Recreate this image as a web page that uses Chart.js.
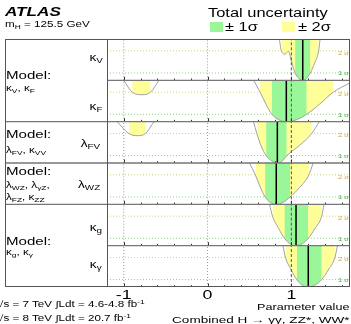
<!DOCTYPE html>
<html>
<head>
<meta charset="utf-8">
<title>Coupling scans</title>
<script src="https://cdn.jsdelivr.net/npm/chart.js@4.4.1/dist/chart.umd.min.js"></script>
<style>
  html, body { margin: 0; padding: 0; background: #fff; }
  body { position: relative; width: 351px; height: 324px; overflow: hidden;
         font-family: "Liberation Sans", Arial, Helvetica, sans-serif; color: #000; }
  canvas { position: absolute; left: 0; top: 0; }
  .t { position: absolute; white-space: nowrap; line-height: 1;
       transform: scaleX(1.37); transform-origin: 0 50%; }
  .t.r { transform-origin: 100% 50%; }
  .t sub { font-size: 72%; vertical-align: -0.3em; line-height: 0; }
  .t sup { font-size: 72%; vertical-align: 0.5em; line-height: 0; }
  .swatch { position: absolute; width: 13px; height: 10px; }
</style>
</head>
<body>
<canvas id="fits" width="351" height="324"></canvas>

<div class="t" style="left:5px; top:6px; font-size:12.5px; font-weight:bold; font-style:italic;">ATLAS</div>
<div class="t" style="left:5px; top:20px; font-size:8.5px;">m<sub>H</sub> = 125.5 GeV</div>

<div class="t" style="left:208px; top:7px; font-size:12px;">Total uncertainty</div>
<div class="swatch" style="left:210px; top:22px; background:#99f799;"></div>
<div class="t" style="left:225px; top:21px; font-size:12px;">± 1σ</div>
<div class="swatch" style="left:282px; top:22px; background:#ffff99;"></div>
<div class="t" style="left:298px; top:21px; font-size:12px;">± 2σ</div>

<div class="t" style="left:6px; top:70px; font-size:11px;">Model:</div>
<div class="t" style="left:6px; top:84px; font-size:8.5px;">κ<sub>V</sub>, κ<sub>F</sub></div>
<div class="t" style="left:6px; top:129px; font-size:11px;">Model:</div>
<div class="t" style="left:6px; top:146px; font-size:8.5px;">λ<sub>FV</sub>, κ<sub>VV</sub></div>
<div class="t" style="left:6px; top:166px; font-size:11px;">Model:</div>
<div class="t" style="left:6px; top:181px; font-size:8.5px;">λ<sub>WZ</sub>, λ<sub>γZ</sub>,</div>
<div class="t" style="left:6px; top:193px; font-size:8.5px;">λ<sub>FZ</sub>, κ<sub>ZZ</sub></div>
<div class="t" style="left:6px; top:236px; font-size:11px;">Model:</div>
<div class="t" style="left:6px; top:248px; font-size:8.5px;">κ<sub>g</sub>, κ<sub>γ</sub></div>

<div class="t r" style="right:248px; top:53px; font-size:10px;">κ<sub>V</sub></div>
<div class="t r" style="right:249px; top:102px; font-size:10px;">κ<sub>F</sub></div>
<div class="t r" style="right:251px; top:139px; font-size:10px;">λ<sub>FV</sub></div>
<div class="t r" style="right:251px; top:180px; font-size:10px;">λ<sub>WZ</sub></div>
<div class="t r" style="right:249px; top:223px; font-size:10px;">κ<sub>g</sub></div>
<div class="t r" style="right:249px; top:260px; font-size:10px;">κ<sub>γ</sub></div>

<div class="t" style="left:-3px; top:300px; font-size:8.5px;">√s = 7 TeV ∫Ldt = 4.6-4.8 fb<sup>-1</sup></div>
<div class="t" style="left:-3px; top:314px; font-size:8.5px;">√s = 8 TeV ∫Ldt = 20.7 fb<sup>-1</sup></div>
<div class="t r" style="right:2px; top:303px; font-size:9.2px;">Parameter value</div>
<div class="t r" style="right:2px; top:315px; font-size:9.9px;">Combined H → γγ, ZZ*, WW*</div>

<script>
(() => {
  'use strict';

  // lettering in this figure is set wide
  const SX = 1.37;

  const xMin = -1.2;
  const xMax = 1.7;
  const yTop = 5.6;            // -2 ln Λ at the top of every panel
  const majorTicks = [-1, 0, 1];
  const minorTicks = [-1.2, -0.8, -0.6, -0.4, -0.2, 0.2, 0.4, 0.6, 0.8, 1.2, 1.4, 1.6];
  const refLines = [-1, 0, 1];

  const params = ['κV', 'κF', 'λFV', 'λWZ', 'κg', 'κγ'];
  const bestFit = [1.136, 0.94, 0.833, 0.82, 1.056, 1.202];
  const oneSigma = [[1.045, 1.226], [0.767, 1.183], [0.699, 0.945], [0.687, 0.985], [0.917, 1.202], [1.064, 1.362]];
  const twoSigma = [
    [[0.88, 1.326]],
    [[-0.9, -0.68], [0.627, 1.5]],
    [[-0.94, -0.74], [0.588, 1.243]],
    [[0.57, 1.21]],
    [[0.775, 1.362]],
    [[0.93, 1.52]]
  ];

  // -2 ln Λ profiles as [value, -2 ln Λ]
  const scanKV = [[0.857, 5.6], [0.88, 4.0], [0.925, 3.55], [0.965, 3.95], [1.0, 2.6], [1.045, 1.0], [1.09, 0.25],
    [1.136, 0], [1.18, 0.25], [1.226, 1.0], [1.28, 2.4], [1.326, 4.0], [1.343, 5.6]];
  const scanKFneg = [[-1.0, 5.6], [-0.9, 4.0], [-0.78, 3.65], [-0.68, 4.0], [-0.58, 5.6]];
  const scanKF = [[0.55, 5.6], [0.627, 4.0], [0.70, 2.3], [0.767, 1.0], [0.85, 0.25], [0.94, 0], [1.06, 0.25],
    [1.183, 1.0], [1.34, 2.4], [1.5, 4.0], [1.7, 5.25]];
  const scanLFVneg = [[-1.08, 5.6], [-0.94, 4.0], [-0.84, 3.7], [-0.74, 4.0], [-0.64, 5.6]];
  const scanLFV = [[0.548, 5.6], [0.588, 4.0], [0.64, 2.3], [0.699, 1.0], [0.77, 0.25], [0.833, 0], [0.89, 0.25],
    [0.945, 1.0], [1.1, 2.4], [1.243, 4.0], [1.333, 5.6]];
  const scanLWZ = [[0.50, 5.6], [0.57, 4.0], [0.63, 2.3], [0.687, 1.0], [0.75, 0.25], [0.82, 0], [0.90, 0.25],
    [0.985, 1.0], [1.10, 2.3], [1.21, 4.0], [1.26, 5.6]];
  const scanKG = [[0.74, 5.6], [0.775, 4.0], [0.85, 2.3], [0.917, 1.0], [0.985, 0.25], [1.056, 0], [1.13, 0.25],
    [1.202, 1.0], [1.28, 2.3], [1.362, 4.0], [1.39, 5.6]];
  const scanKGam = [[0.90, 5.6], [0.93, 4.0], [1.0, 2.3], [1.064, 1.0], [1.13, 0.25], [1.202, 0], [1.28, 0.25],
    [1.362, 1.0], [1.44, 2.3], [1.52, 4.0], [1.55, 5.6]];
  const scans = [[scanKV], [scanKFneg, scanKF], [scanLFVneg, scanLFV], [scanLWZ], [scanKG], [scanKGam]];

  const colors = {
    band1: '#99f799',
    band2: '#ffff99',
    scan: '#a0a0a0',
    line2: '#d6d26a',
    line1: '#86d486',
    label2: '#e0a020',
    label1: '#3cb43c',
    frame: '#555555'
  };

  /**
   * Returns the part of a scan that lies inside an interval
   *
   * @param {Array} branches scan branches of one parameter
   * @param {Array} interval [lo, hi]
   * @returns {Array} points
   */
  const cutScan = (branches, [lo, hi]) => {
    const branch = branches.find(b => b[0][0] <= lo && b[b.length - 1][0] >= hi);
    return branch.filter(([x]) => x >= lo - 1e-9 && x <= hi + 1e-9);
  };

  // listed back to front
  const layers = [];
  params.forEach((name, i) => {
    const yAxisID = 'y' + i;
    const add = (points, style) => {
      layers.push(Object.assign({
        label: name,
        data: points.map(([x, y]) => ({x, y})),
        yAxisID,
        pointRadius: 0,
        borderWidth: 1,
        fill: false
      }, style));
    };

    add([[xMin, 4], [xMax, 4]], {borderColor: colors.line2, borderDash: [1, 2]});
    add([[xMin, 1], [xMax, 1]], {borderColor: colors.line1, borderDash: [1, 2]});

    twoSigma[i].forEach(interval => add(cutScan(scans[i], interval), {
      fill: 'end', backgroundColor: colors.band2, borderColor: 'transparent', borderWidth: 0,
      cubicInterpolationMode: 'monotone'
    }));
    add(cutScan(scans[i], oneSigma[i]), {
      fill: 'end', backgroundColor: colors.band1, borderColor: 'transparent', borderWidth: 0,
      cubicInterpolationMode: 'monotone'
    });

    scans[i].forEach(branch => add(branch, {borderColor: colors.scan, cubicInterpolationMode: 'monotone'}));

    refLines.forEach(v => add([[v, 0], [v, yTop]], {
      borderColor: v === 1 ? '#555' : '#999',
      borderDash: v === 1 ? [3, 2] : [1, 2]
    }));

    add([[bestFit[i], 0], [bestFit[i], yTop]], {borderColor: '#000', borderWidth: 1.5});
  });
  // Chart.js paints the first dataset last
  const datasets = layers.reverse();

  const scales = {
    x: {type: 'linear', min: xMin, max: xMax, display: false}
  };
  params.forEach((name, i) => {
    scales['y' + i] = {
      type: 'linear', min: 0, max: yTop, display: false,
      position: 'right', stack: 'panels', stackWeight: 1
    };
  });

  /**
   * Draws stretched text
   */
  const wideText = (ctx, text, x, y, color) => {
    ctx.save();
    ctx.translate(x, y);
    ctx.scale(SX, 1);
    ctx.fillStyle = color;
    ctx.fillText(text, 0, 0);
    ctx.restore();
  };

  // frames, ticks and sigma markers of the stacked panels
  const panelFrame = {
    id: 'panelFrame',
    afterDatasetsDraw(chart) {
      const {ctx, chartArea: area, scales: sc} = chart;
      const panels = params.map((name, i) => sc['y' + i]);
      const px = v => Math.round(sc.x.getPixelForValue(v)) + 0.5;

      ctx.save();
      ctx.font = '5.5px "Liberation Sans", Arial, sans-serif';
      ctx.textAlign = 'right';
      ctx.textBaseline = 'middle';
      panels.forEach(s => {
        wideText(ctx, '2 σ', area.right - 1, s.getPixelForValue(4) + 2.5, colors.label2);
        wideText(ctx, '1 σ', area.right - 1, s.getPixelForValue(1) + 1, colors.label1);
      });

      ctx.strokeStyle = '#333';
      ctx.lineWidth = 1;
      ctx.beginPath();
      panels.forEach(s => {
        majorTicks.forEach(v => { ctx.moveTo(px(v), s.bottom); ctx.lineTo(px(v), s.bottom - 3.5); });
        minorTicks.forEach(v => { ctx.moveTo(px(v), s.bottom); ctx.lineTo(px(v), s.bottom - 1.8); });
      });
      ctx.stroke();

      // panel dividers; the ones closing a model reach the label column
      const groupEnds = [1, 2, 3];
      ctx.strokeStyle = '#777';
      ctx.lineWidth = 1.4;
      ctx.beginPath();
      panels.slice(0, -1).forEach((s, i) => {
        ctx.moveTo(groupEnds.includes(i) ? 5 : area.left, s.bottom);
        ctx.lineTo(area.right, s.bottom);
      });
      ctx.stroke();

      ctx.strokeStyle = colors.frame;
      ctx.lineWidth = 1;
      ctx.strokeRect(5.5, area.top + 0.5, area.right - 6, area.bottom - area.top - 1);
      ctx.beginPath();
      ctx.moveTo(area.left + 0.5, area.top);
      ctx.lineTo(area.left + 0.5, area.bottom);
      ctx.stroke();

      ctx.font = '13px "Liberation Sans", Arial, sans-serif';
      ctx.textAlign = 'center';
      ctx.textBaseline = 'middle';
      majorTicks.forEach(v => wideText(ctx, String(v), sc.x.getPixelForValue(v), area.bottom + 8.5, '#000'));
      ctx.restore();
    }
  };

  new Chart(document.getElementById('fits'), {
    type: 'line',
    data: {datasets},
    options: {
      responsive: false,
      devicePixelRatio: 1,
      animation: false,
      layout: {padding: {left: 107, top: 39, right: 1, bottom: 37}},
      scales,
      plugins: {legend: {display: false}, tooltip: {enabled: false}, title: {display: false}}
    },
    plugins: [panelFrame]
  });
})();
</script>
</body>
</html>
